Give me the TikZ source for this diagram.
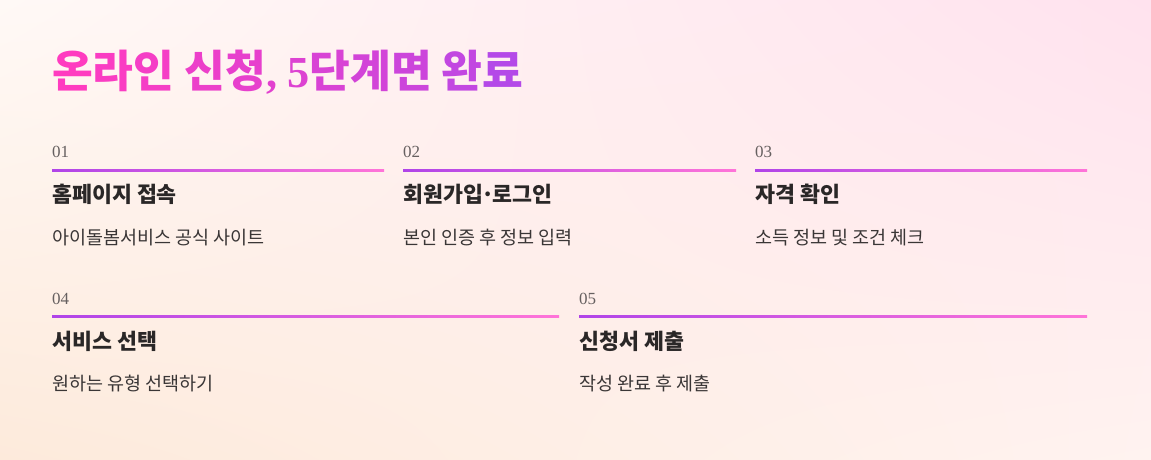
\documentclass[tikz,border=0pt]{standalone}
\usepackage{fontspec}
\usetikzlibrary{calc,shadings}
\newfontfamily\kr{Noto Sans CJK KR}
\newfontfamily\num{Liberation Serif}
\definecolor{bgA}{HTML}{FFF9F6}
\definecolor{bgB}{HTML}{FFE2EE}
\definecolor{bgC}{HTML}{FDEADB}
\definecolor{bgD}{HTML}{FFF3F0}
\definecolor{tPink}{HTML}{FF3CC0}
\definecolor{tPurple}{HTML}{B449E8}
\definecolor{lnA}{HTML}{B044E8}
\definecolor{lnB}{HTML}{FF74D8}
\definecolor{ink}{HTML}{2A2727}
\definecolor{sub}{HTML}{3A3636}
\definecolor{numc}{HTML}{666060}
\newcommand{\gc}[2]{\textcolor{tPurple!#1!tPink}{#2}}
\tikzset{
  x=1pt, y=-1pt,
  title/.style={anchor=base west, inner sep=0pt, font=\kr\bfseries\fontsize{44.3}{50}\selectfont},
  stepnum/.style={anchor=base west, inner sep=0pt, text=numc, font=\num\fontsize{17}{20}\selectfont},
  head/.style={anchor=base west, inner sep=0pt, text=ink, font=\kr\bfseries\fontsize{21.7}{24}\selectfont},
  desc/.style={anchor=base west, inner sep=0pt, text=sub, font=\kr\fontsize{18.5}{20}\selectfont},
}
\newcommand{\gline}[2]{\shade[left color=lnA, right color=lnB] ($(#1)+(0,-1)$) rectangle ($(#2)+(0,1)$);}
\begin{document}
\begin{tikzpicture}
\useasboundingbox (0,0) rectangle (1151,460);
\shade[upper left=bgA, upper right=bgB, lower left=bgC, lower right=bgD] (0,0) rectangle (1151,460);
\node[title] (t) at (52,87) {\gc{0}{온}\gc{7}{라}\gc{14}{인} \gc{25}{신}\gc{32}{청}\gc{38}{\num,} \gc{45}{\num 5}\gc{52}{단}\gc{60}{계}\gc{68}{면} \gc{82}{완}\gc{100}{료}};
% row 1
\node[stepnum] (n1) at (52,157) {01};
\node[stepnum] (n2) at (403,157) {02};
\node[stepnum] (n3) at (755,157) {03};
\coordinate (a1) at (52,170); \coordinate (b1) at (384,170);
\coordinate (a2) at (403,170); \coordinate (b2) at (736,170);
\coordinate (a3) at (755,170); \coordinate (b3) at (1087,170);
\gline{a1}{b1}\gline{a2}{b2}\gline{a3}{b3}
\node[head] (h1) at (52,202) {홈페이지 접속};
\node[head] (h2) at (403,202) {회원가입{\kern-2pt}·{\kern-2pt}로그인};
\node[head] (h3) at (755,202) {자격 확인};
\node[desc] (d1) at (52,244) {아이돌봄서비스 공식 사이트};
\node[desc] (d2) at (403,244) {본인 인증 후 정보 입력};
\node[desc] (d3) at (755,244) {소득 정보 및 조건 체크};
% row 2
\node[stepnum] (n4) at (52,304) {04};
\node[stepnum] (n5) at (579,304) {05};
\coordinate (a4) at (52,316); \coordinate (b4) at (559,316);
\coordinate (a5) at (579,316); \coordinate (b5) at (1087,316);
\gline{a4}{b4}\gline{a5}{b5}
\node[head] (h4) at (52,349) {서비스 선택};
\node[head] (h5) at (579,349) {신청서 제출};
\node[desc] (d4) at (52,390) {원하는 유형 선택하기};
\node[desc] (d5) at (579,390) {작성 완료 후 제출};
\end{tikzpicture}
\end{document}
